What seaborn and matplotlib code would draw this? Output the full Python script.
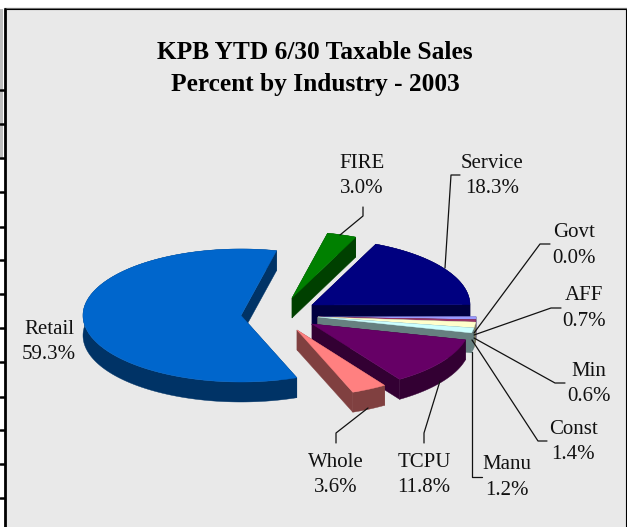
import numpy as np
import matplotlib
matplotlib.use('Agg')
import matplotlib.pyplot as plt
from matplotlib.patches import Polygon
import seaborn as sns

# slices in drawing order round the pie, starting from the top of Retail
labels = ['Retail', 'Whole', 'TCPU', 'Manu', 'Const', 'Min', 'AFF', 'Govt', 'Service', 'FIRE']
values = [59.3, 3.6, 11.8, 1.2, 1.4, 0.6, 0.7, 0.0, 18.3, 3.0]
colors = ['#0066CC', '#FF8080', '#660066', '#CCFFFF', '#FFFFCC', '#993366', '#9999FF', '#8080FF', '#000080', '#008000']

# where each slice's point ends up once exploded (pixels)
apex = {'Retail': (241, 315.5), 'Whole': (297, 330), 'TCPU': (312, 324), 'Manu': (318, 317),
        'Const': (318, 317), 'Min': (318, 317), 'AFF': (318, 317), 'Govt': (318, 317),
        'Service': (312, 305), 'FIRE': (292, 298)}

label_pos = {'Retail': (49, 342), 'Whole': (336, 475), 'TCPU': (424, 475), 'Manu': (507, 477.5),
             'Const': (573, 442), 'Min': (589, 384), 'AFF': (584, 308.5), 'Govt': (574, 245.5),
             'Service': (492, 176), 'FIRE': (362, 176)}

leaders = [[(340, 235), (363, 216), (363, 207)],
           [(445, 268), (451, 175), (460, 175)],
           [(474, 333), (540, 244), (550, 244)],
           [(474, 335), (551, 308), (561, 308)],
           [(474, 338), (555, 383), (565, 383)],
           [(472, 340), (538, 441), (547, 441)],
           [(472, 352), (472, 477), (482, 477)],
           [(440, 381), (424, 433), (424, 443)],
           [(368, 408), (336, 433), (336, 443)]]

sheet_rows = [90, 124, 158, 192, 227, 260, 294, 328, 362, 397, 430, 464, 498]

RX, RY, DEPTH = 158, 66.5, 20
START = 77

sns.set_theme(style='white')
plt.rcParams['font.family'] = ['Liberation Serif', 'DejaVu Serif']

fig = plt.figure(figsize=(6.27, 5.27), dpi=100)
ax = fig.add_axes([0, 0, 1, 1])
ax.set_xlim(0, 627)
ax.set_ylim(527, 0)
ax.axis('off')

# chart area and the bit of spreadsheet showing behind it
ax.fill_between([5.5, 626], 9, 527, color='#E9E9E9', lw=0, zorder=0)
ax.plot([4, 627], [8, 8], color='#777777', lw=0.9, zorder=1)
ax.plot([5.5, 626, 626], [9.3, 9.3, 527], color='black', lw=0.8, zorder=1)
ax.fill_between([0, 3], 9, 158, color='#BEBEBE', lw=0, zorder=0)
ax.plot([4.5, 4.5], [9, 527], color='black', lw=2.0, zorder=1)
for y in sheet_rows:
    ax.plot([0, 4], [y, y], color='black', lw=1.8, zorder=1)


def rim(cx, cy, t0, t1):
    t = np.radians(np.linspace(t0, t1, max(int(t1 - t0) * 2, 2)))
    return np.column_stack([cx + RX * np.cos(t), cy - RY * np.sin(t)])


def draw_slice(name, t0, t1, color):
    cx, cy = apex[name]
    dark = tuple(c * 0.5 for c in matplotlib.colors.to_rgb(color))
    top = np.vstack([[cx, cy], rim(cx, cy, t0, t1)])
    down = np.array([0, DEPTH])
    # side faces all take the same dark colour, so their order does not matter
    arc = rim(cx, cy, t0, t1)
    side_rim = np.vstack([arc, (arc + down)[::-1]])
    ax.add_patch(Polygon(side_rim, fc=dark, ec=dark, lw=0.3))
    for edge in (arc[0], arc[-1]):
        quad = [(cx, cy), edge, edge + down, (cx, cy + DEPTH)]
        ax.add_patch(Polygon(quad, fc=dark, ec=dark, lw=0.3))
    ax.add_patch(Polygon(top, fc=color, ec=color, lw=0.3))


# turn values into angles
spans = np.array(values) / sum(values) * 360
starts = START + np.concatenate([[0], np.cumsum(spans)[:-1]])
slices = {n: (s, s + w, c) for n, s, w, c in zip(labels, starts, spans, colors)}

# back to front
for name in ['FIRE', 'Service', 'Govt', 'AFF', 'Min', 'Const', 'Manu', 'TCPU', 'Whole', 'Retail']:
    t0, t1, c = slices[name]
    if t1 > t0:
        draw_slice(name, t0, t1, c)

for line in leaders:
    xs, ys = zip(*line)
    ax.plot(xs, ys, color='#111111', lw=0.9, zorder=5)

for name, val in zip(labels, values):
    x, y = label_pos[name]
    ax.text(x, y, f'{name}\n{val:.1f}%', ha='center', va='center', fontsize=15,
            color='#111111', linespacing=1.44, zorder=6)

ax.text(315, 68.5, 'KPB YTD 6/30 Taxable Sales\nPercent by Industry - 2003', ha='center', va='center',
        fontsize=18.3, fontweight='bold', color='black', linespacing=1.52, zorder=6)

fig.savefig('out.png', dpi=100)
